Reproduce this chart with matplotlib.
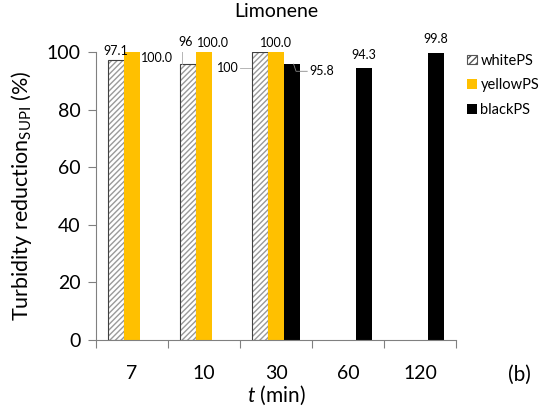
"""
Turbidity reduction for limonene, white / yellow / black PS
"""

import numpy as np
import matplotlib
matplotlib.use('Agg')
import matplotlib.pyplot as plt
from matplotlib.patches import Patch

plt.rcParams['font.family'] = ['Lato', 'DejaVu Sans']
plt.rcParams['mathtext.fontset'] = 'custom'
plt.rcParams['mathtext.rm'] = 'Lato'
plt.rcParams['mathtext.it'] = 'Lato:italic'

## values
times = ['7', '10', '30', '60', '120']
white_ps = [97.1, 96, 100, np.nan, np.nan]
yellow_ps = [100.0, 100.0, 100.0, np.nan, np.nan]
black_ps = [np.nan, np.nan, 95.8, 94.3, 99.8]
white_lbl = ['97.1', '96', '100', '', '']
yellow_lbl = ['100.0', '100.0', '100.0', '', '']
black_lbl = ['', '', '95.8', '94.3', '99.8']

x = np.arange(len(times))
w = 0.222

fig = plt.figure(figsize=(5.41, 4.16), dpi=100)
ax = fig.add_axes([0.1775, 0.1827, 0.6655, 0.6923])

## white bars: hatch drawn in grey, outline drawn on top in dark grey
ax.bar(x - w, white_ps, w, color='white', edgecolor='#9a9a9a', hatch='//////',
       linewidth=0)
ax.bar(x - w, white_ps, w, fill=False, edgecolor='#404040', linewidth=0.8)
ax.bar(x, yellow_ps, w, color='#FFC000', linewidth=0)
ax.bar(x + w, black_ps, w, color='black', linewidth=0)

# proxies for the legend
handles = [Patch(facecolor='white', edgecolor='#555555', hatch='/////',
                 linewidth=0.8),
           Patch(facecolor='#FFC000'),
           Patch(facecolor='black')]
ax.legend(handles, ['whitePS', 'yellowPS', 'blackPS'], loc='upper left',
          bbox_to_anchor=(1.015, 1.015), frameon=False, fontsize=10.5,
          handlelength=0.65, handleheight=0.65, handletextpad=0.25,
          labelspacing=0.75, borderaxespad=0)

## data labels
fs = 9
ax.text(x[0] - w, white_ps[0] + 1.2, white_lbl[0], ha='center', va='bottom',
        fontsize=fs)
ax.text(x[0] + w / 2 + 0.02, yellow_ps[0] - 2, yellow_lbl[0], ha='left',
        va='center', fontsize=fs)
ax.text(x[1] - w - 0.04, white_ps[1] + 5.5, white_lbl[1], ha='center',
        va='bottom', fontsize=fs)
ax.plot([x[1] - w - 0.08, x[1] - w - 0.08], [white_ps[1] + 5, white_ps[1]],
        color='#aaaaaa', lw=0.6)
ax.text(x[1] + 0.12, yellow_ps[1] + 1.2, yellow_lbl[1], ha='center',
        va='bottom', fontsize=fs)
ax.text(x[2] - 1.5 * w - 0.18, white_ps[2] - 5.5, white_lbl[2], ha='right',
        va='center', fontsize=fs)
ax.plot([x[2] - 1.5 * w - 0.17, x[2] - 1.5 * w - 0.02],
        [white_ps[2] - 5.5, white_ps[2] - 5.5], color='#aaaaaa', lw=0.6)
ax.text(x[2], yellow_ps[2] + 1.2, yellow_lbl[2], ha='center', va='bottom',
        fontsize=fs)
ax.text(x[2] + 1.5 * w + 0.13, black_ps[2] - 2.5, black_lbl[2], ha='left',
        va='center', fontsize=fs)
ax.plot([x[2] + w * 1.1, x[2] + w * 1.25, x[2] + 1.5 * w + 0.1],
        [black_ps[2], black_ps[2] - 2.5, black_ps[2] - 2.5],
        color='#888888', lw=0.6)
for i in [3, 4]:
    ax.text(x[i] + w, black_ps[i] + 2.5, black_lbl[i], ha='center',
            va='bottom', fontsize=fs)

## axes styling
ax.set_xlim(-0.5, len(times) - 0.5)
ax.set_ylim(0, 100)
ax.set_yticks(np.arange(0, 101, 20))
ax.set_xticks(np.arange(len(times) + 1) - 0.5)
ax.set_xticklabels([])
ax.set_xticks(x, minor=True)
ax.set_xticklabels(times, minor=True)
ax.tick_params(axis='x', which='major', length=6, width=0.8, color='#808080')
ax.tick_params(axis='x', which='minor', length=0, pad=18, labelsize=14)
ax.tick_params(axis='y', length=6, width=0.8, color='#808080', labelsize=14,
               pad=5)
for s in ['top', 'right']:
    ax.spines[s].set_visible(False)
for s in ['left', 'bottom']:
    ax.spines[s].set_color('#808080')
    ax.spines[s].set_linewidth(0.8)

ax.set_title('Limonene', fontsize=14, pad=25)
ax.set_ylabel(r'Turbidity reduction$_\mathregular{SUPI}$ (%)', fontsize=15.5,
              labelpad=9)
ax.set_xlabel(r'$t$ (min)', fontsize=15, labelpad=1)
fig.text(0.961, 0.098, '(b)', fontsize=15, ha='center', va='center')

fig.savefig('out.png', dpi=100)
